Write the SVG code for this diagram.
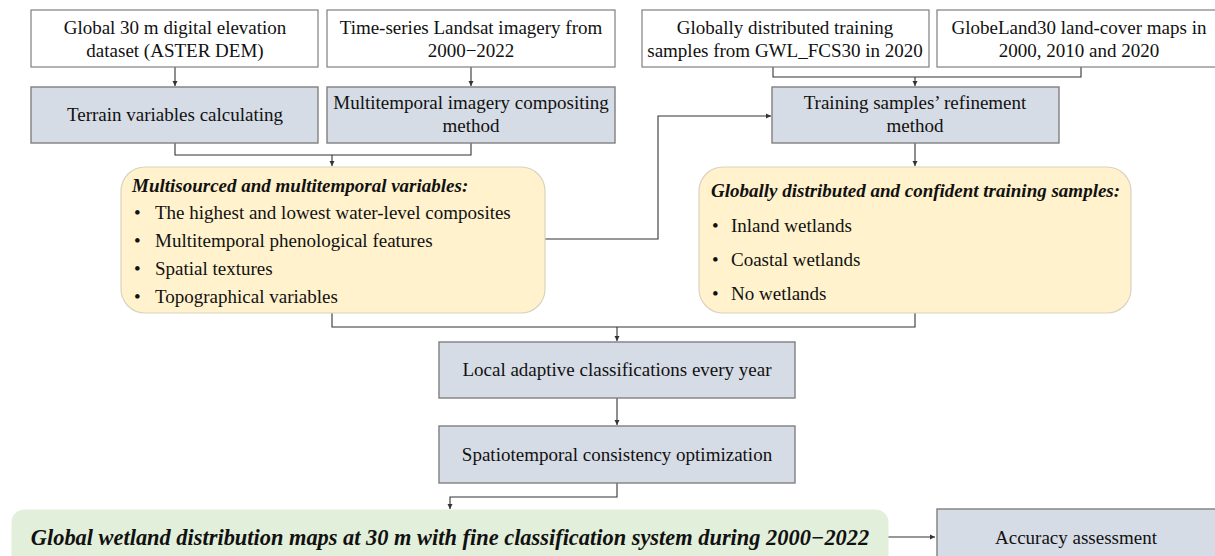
<svg xmlns="http://www.w3.org/2000/svg" width="1215" height="556" viewBox="0 0 1215 556">
<defs>
<style>
.w{fill:#ffffff;stroke:#7f7f7f;stroke-width:1.2}
.g{fill:#d6dce5;stroke:#7f7f7f;stroke-width:1.4}
.y{fill:#fff2cc;stroke:#d9d3c0;stroke-width:1.2}
.gr{fill:#e2efda;stroke:#e2efda;stroke-width:1}
.t{font-family:"Liberation Serif","Times New Roman",serif;font-size:19px;fill:#111}
.c{text-anchor:middle}
.h{font-weight:bold;font-style:italic}
.cn{fill:none;stroke:#333;stroke-width:1.1}
</style>
<marker id="ar" markerWidth="6" markerHeight="6" refX="5" refY="3" orient="auto" markerUnits="userSpaceOnUse">
<path d="M0,0.5 L5,3 L0,5.5 Z" fill="#333"/>
</marker>
</defs>
<g id="connectors">
<path class="cn" d="M175,67 V86" marker-end="url(#ar)"/>
<path class="cn" d="M471,67 V86" marker-end="url(#ar)"/>
<path class="cn" d="M175,143 V155 H471 V143"/>
<path class="cn" d="M332,155 V166" marker-end="url(#ar)"/>
<path class="cn" d="M773,67 V77 H1081 V67"/>
<path class="cn" d="M915,77 V86" marker-end="url(#ar)"/>
<path class="cn" d="M545,239 H658 V116 H771" marker-end="url(#ar)"/>
<path class="cn" d="M915,143 V166" marker-end="url(#ar)"/>
<path class="cn" d="M332,313 V327 H915 V313"/>
<path class="cn" d="M617,327 V341" marker-end="url(#ar)"/>
<path class="cn" d="M617,398 V425" marker-end="url(#ar)"/>
<path class="cn" d="M617,483 V497 H450 V509" marker-end="url(#ar)"/>
<path class="cn" d="M888,537 H935" marker-end="url(#ar)"/>
</g>
<g id="n_dem">
<rect class="w" x="31" y="10" width="287" height="57"/>
<text class="t c" x="175" y="34">Global 30 m digital elevation</text>
<text class="t c" x="175" y="57">dataset (ASTER DEM)</text>
</g>
<g id="n_landsat">
<rect class="w" x="327" y="10" width="288" height="57"/>
<text class="t c" x="471" y="34">Time-series Landsat imagery from</text>
<text class="t c" x="471" y="57">2000−2022</text>
</g>
<g id="n_terrain">
<rect class="g" x="31" y="87" width="287" height="56"/>
<text class="t c" x="175" y="121">Terrain variables calculating</text>
</g>
<g id="n_composite">
<rect class="g" x="327" y="87" width="288" height="56"/>
<text class="t c" x="471" y="109">Multitemporal imagery compositing</text>
<text class="t c" x="471" y="132">method</text>
</g>
<g id="n_gwl">
<rect class="w" x="642" y="10" width="287" height="57"/>
<text class="t c" x="785" y="34">Globally distributed training</text>
<text class="t c" x="785" y="57">samples from GWL_FCS30 in 2020</text>
</g>
<g id="n_globeland">
<rect class="w" x="937" y="10" width="290" height="57"/>
<text class="t c" x="1079" y="34">GlobeLand30 land-cover maps in</text>
<text class="t c" x="1079" y="57">2000, 2010 and 2020</text>
</g>
<g id="n_refine">
<rect class="g" x="772" y="87" width="287" height="56"/>
<text class="t c" x="915" y="109">Training samples’ refinement</text>
<text class="t c" x="915" y="132">method</text>
</g>
<g id="n_variables">
<rect class="y" x="121" y="167" width="424" height="146" rx="24"/>
<text class="t h" x="132" y="192">Multisourced and multitemporal variables:</text>
<text class="t" x="134" y="219">•</text><text class="t" x="155" y="219">The highest and lowest water-level composites</text>
<text class="t" x="134" y="247">•</text><text class="t" x="155" y="247">Multitemporal phenological features</text>
<text class="t" x="134" y="275">•</text><text class="t" x="155" y="275">Spatial textures</text>
<text class="t" x="134" y="303">•</text><text class="t" x="155" y="303">Topographical variables</text>
</g>
<g id="n_samples">
<rect class="y" x="699" y="167" width="432" height="146" rx="24"/>
<text class="t h" x="711" y="197">Globally distributed and confident training samples:</text>
<text class="t" x="712" y="232">•</text><text class="t" x="731" y="232">Inland wetlands</text>
<text class="t" x="712" y="266">•</text><text class="t" x="731" y="266">Coastal wetlands</text>
<text class="t" x="712" y="300">•</text><text class="t" x="731" y="300">No wetlands</text>
</g>
<g id="n_classify">
<rect class="g" x="439" y="342" width="356" height="56"/>
<text class="t c" x="617" y="376">Local adaptive classifications every year</text>
</g>
<g id="n_optimize">
<rect class="g" x="439" y="426" width="356" height="57"/>
<text class="t c" x="617" y="461">Spatiotemporal consistency optimization</text>
</g>
<g id="n_maps">
<rect class="gr" x="12" y="510" width="876" height="70" rx="12"/>
<text class="t h" x="450" y="545" text-anchor="middle" style="font-size:22.4px">Global wetland distribution maps at 30 m with fine classification system during 2000−2022</text>
</g>
<g id="n_accuracy">
<rect class="g" x="937" y="509" width="290" height="70"/>
<text class="t c" x="1076" y="544">Accuracy assessment</text>
</g>
</svg>
